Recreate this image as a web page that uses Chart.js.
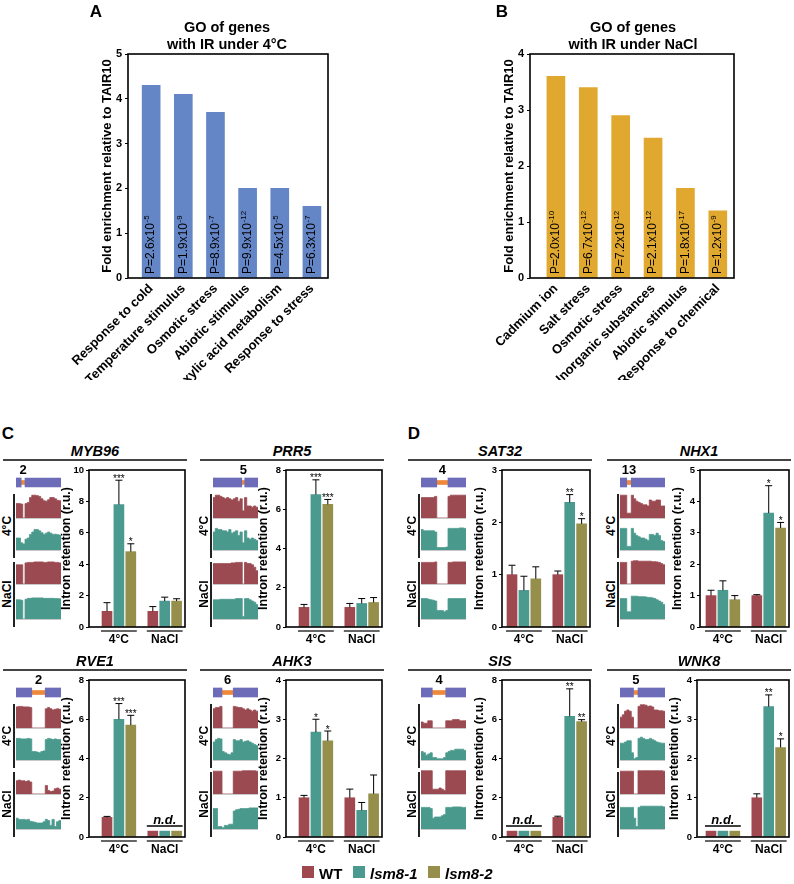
<!DOCTYPE html>
<html>
<head>
<meta charset="utf-8">
<script src="https://cdn.jsdelivr.net/npm/chart.js@4.4.0/dist/chart.umd.min.js"></script>
<style>
body { margin:0; background:#fff; width:794px; height:884px; position:relative; overflow:hidden; font-family:"Liberation Sans", Arial, sans-serif; }
canvas { position:absolute; }
.t { position:absolute; transform:translate(-50%,-50%); white-space:nowrap; font-weight:bold; line-height:1; color:#000; }
.rot { transform:translate(-50%,-50%) rotate(-90deg); }
.hl { position:absolute; height:1.5px; background:#444; }
.vl { position:absolute; width:1.5px; background:#222; }
.sq { position:absolute; width:12px; height:12px; }
</style>
</head>
<body>
<script>
// GO enrichment, panel A (4°C) and B (NaCl)
var coldTerms = ["Response to cold", "Temperature stimulus", "Osmotic stress", "Abiotic stimulus", "Carboxylic acid metabolism", "Response to stress"];
var coldFold = [4.3, 4.1, 3.7, 2.0, 2.0, 1.6];
var coldPMant = ["2.6", "1.9", "8.9", "9.9", "4.5", "6.3"];
var coldPExp = ["-5", "-9", "-7", "-12", "-5", "-7"];

var saltTerms = ["Cadmium ion", "Salt stress", "Osmotic stress", "Inorganic substances", "Abiotic stimulus", "Response to chemical"];
var saltFold = [3.6, 3.4, 2.9, 2.5, 1.6, 1.2];
var saltPMant = ["2.0", "6.7", "7.2", "2.1", "1.8", "1.2"];
var saltPExp = ["-10", "-12", "-12", "-12", "-17", "-9"];

var genotypes = ["WT", "lsm8-1", "lsm8-2"];
var conditions = ["4°C", "NaCl"];

// intron retention, order: 4°C WT, lsm8-1, lsm8-2, NaCl WT, lsm8-1, lsm8-2
var myb96Mean = [1.0, 7.8, 4.8, 1.0, 1.65, 1.65];
var myb96Err = [0.55, 1.55, 0.5, 0.3, 0.25, 0.15];
var myb96Sig = ["", "***", "*", "", "", ""];
var prr5Mean = [1.0, 6.75, 6.25, 1.0, 1.2, 1.25];
var prr5Err = [0.15, 0.75, 0.25, 0.2, 0.25, 0.25];
var prr5Sig = ["", "***", "***", "", "", ""];
var rve1Mean = [1.0, 6.0, 5.7, 0.3, 0.3, 0.3];
var rve1Err = [0.05, 0.8, 0.5, 0, 0, 0];
var rve1Sig = ["", "***", "***", "", "", ""];
var ahk3Mean = [1.0, 2.67, 2.45, 1.0, 0.68, 1.1];
var ahk3Err = [0.06, 0.33, 0.25, 0.22, 0.2, 0.48];
var ahk3Sig = ["", "*", "*", "", "", ""];
var sat32Mean = [1.0, 0.7, 0.92, 1.0, 2.38, 1.97];
var sat32Err = [0.18, 0.27, 0.23, 0.07, 0.15, 0.1];
var sat32Sig = ["", "", "", "", "**", "*"];
var nhx1Mean = [1.0, 1.17, 0.87, 1.0, 3.63, 3.15];
var nhx1Err = [0.17, 0.3, 0.13, 0.03, 0.87, 0.18];
var nhx1Sig = ["", "", "", "", "*", "*"];
var sisMean = [0.3, 0.3, 0.3, 1.0, 6.15, 5.88];
var sisErr = [0, 0, 0, 0.06, 1.4, 0.1];
var sisSig = ["", "", "", "", "**", "**"];
var wnk8Mean = [0.15, 0.15, 0.15, 1.0, 3.32, 2.28];
var wnk8Err = [0, 0, 0, 0.1, 0.3, 0.22];
var wnk8Sig = ["", "", "", "", "**", "*"];
// n.d. per condition
var ndNone = [false, false];
var rve1ND = [false, true];
var sisND = [true, false];
var wnk8ND = [true, false];

// gene models: intron start/end on a 20 bin scale
var myb96Intron = [2.3, 4.0];
var prr5Intron = [12.8, 14.1];
var rve1Intron = [7, 13];
var ahk3Intron = [4, 9];
var sat32Intron = [7, 12];
var sisIntron = [5, 11];
var nhx1Intron = [3, 5];
var wnk8Intron = [6, 8];

// read coverage, 20 bins, relative height
var myb96Cov4WT = [0.6,0.6,0.58,0,0.6,0.65,0.85,0.95,0.95,0.93,0.9,0.8,0.72,0.7,0.76,0.85,0.85,0.8,0.74,0.72];
var myb96Cov4L1 = [0.5,0.5,0.3,0.25,0.45,0.5,0.65,0.75,0.85,0.85,0.8,0.72,0.65,0.7,0.75,0.7,0.65,0.66,0.64,0.62];
var myb96CovNaWT = [0.8,0.8,0.8,0,0.88,0.9,0.9,0.9,0.92,0.92,0.92,0.92,0.9,0.9,0.92,0.92,0.92,0.9,0.9,0.88];
var myb96CovNaL1 = [0.8,0.8,0.78,0,0.82,0.86,0.86,0.88,0.88,0.88,0.88,0.88,0.86,0.86,0.86,0.86,0.86,0.85,0.85,0.84];
var prr5Cov4WT = [0.85,0.95,0.95,0.9,0.85,0.8,0.85,0.8,0.75,0.8,0.85,0.7,0.8,0.3,0.85,0.5,0.5,0.45,0.5,0.45];
var prr5Cov4L1 = [0.75,0.9,0.85,0.85,0.8,0.8,0.75,0.85,0.7,0.75,0.8,0.6,0.75,0.3,0.8,0.5,0.45,0.5,0.45,0.4];
var prr5CovNaWT = [0.85,0.85,0.85,0.85,0.85,0.85,0.85,0.85,0.88,0.88,0.9,0.9,0.9,0,0.9,0.85,0.85,0.8,0.7,0.55];
var prr5CovNaL1 = [0.8,0.8,0.8,0.82,0.82,0.82,0.82,0.82,0.82,0.82,0.85,0.85,0.85,0.1,0.85,0.85,0.8,0.75,0.7,0.6];
var rve1Cov4WT = [0.88,0.9,0.9,0.88,0.88,0.88,0.85,0,0,0,0,0,0,0.8,0.85,0.8,0.75,0.78,0.8,0.78];
var rve1Cov4L1 = [0.9,0.9,0.88,0.88,0.88,0.9,0.88,0.35,0.35,0.33,0.3,0.35,0.38,0.85,0.9,0.88,0.85,0.88,0.85,0.85];
var rve1CovNaWT = [0.55,0.58,0.55,0.55,0.52,0.55,0.5,0,0,0,0,0,0,0.35,0.15,0.1,0.12,0.22,0.25,0.2];
var rve1CovNaL1 = [0.45,0.4,0.4,0.4,0.38,0.4,0.32,0.3,0.28,0.25,0.25,0.25,0.3,0.4,0.35,0.15,0.4,0.1,0.3,0.35];
var ahk3Cov4WT = [0.8,0.85,0.85,0.9,0,0,0,0,0,0.9,0.88,0.85,0.85,0.8,0.75,0.8,0.75,0.7,0.75,0.7];
var ahk3Cov4L1 = [0.75,0.85,0.9,0.88,0.35,0.3,0.25,0.22,0.3,0.85,0.8,0.8,0.85,0.75,0.78,0.8,0.75,0.7,0.65,0.6];
var ahk3CovNaWT = [0.95,0.95,0.95,0.95,0,0,0,0,0,0.95,0.95,0.95,0.95,0.97,0.97,0.97,0.97,0.97,0.97,0.95];
var ahk3CovNaL1 = [0.85,0.85,0.1,0.1,0.05,0.15,0.15,0.2,0.2,0.75,0.8,0.82,0.85,0.85,0.85,0.85,0.88,0.88,0.88,0.88];
var sat32Cov4WT = [0.85,0.85,0.85,0.85,0.85,0.85,0.9,0,0,0,0,0,0.9,0.95,0.95,0.95,0.95,0.95,0.95,0.95];
var sat32Cov4L1 = [0.85,0.8,0.8,0.8,0.8,0.8,0.75,0.1,0.1,0.1,0.1,0.12,0.9,0.9,0.9,0.9,0.9,0.92,0.92,0.9];
var sat32CovNaWT = [0.9,0.9,0.9,0.9,0.9,0.9,0.92,0,0,0,0,0,0.9,0.9,0.92,0.92,0.92,0.92,0.92,0.92];
var sat32CovNaL1 = [0.85,0.85,0.85,0.82,0.8,0.78,0.75,0.35,0.35,0.35,0.3,0.35,0.85,0.85,0.85,0.85,0.85,0.85,0.85,0.85];
var sisCov4WT = [0.25,0.2,0.2,0.3,0.3,0,0,0,0,0,0,0.3,0.3,0.3,0.35,0.35,0.35,0.3,0.3,0.3];
var sisCov4L1 = [0.35,0.3,0.2,0.25,0.3,0.1,0.1,0.05,0.05,0.05,0.1,0.3,0.35,0.4,0.4,0.45,0.45,0.45,0.45,0.4];
var sisCovNaWT = [0.97,0.97,0.97,0.97,0.97,0.2,0.2,0.2,0.25,0.2,0.15,0.97,0.97,0.97,0.97,0.97,0.97,0.97,0.97,0.97];
var sisCovNaL1 = [0.9,0.9,0.9,0.9,0.85,0.45,0.5,0.5,0.5,0.55,0.6,0.9,0.9,0.9,0.92,0.92,0.92,0.92,0.9,0.9];
var nhx1Cov4WT = [0.95,0.95,0.95,0.2,0.2,0.95,0.8,0.7,0.65,0.6,0.55,0.55,0.5,0.75,0.7,0.7,0.75,0.75,0.5,0.5];
var nhx1Cov4L1 = [0.9,0.9,0.9,0.15,0.15,0.9,0.7,0.6,0.55,0.5,0.5,0.45,0.4,0.65,0.65,0.6,0.7,0.6,0.4,0.35];
var nhx1CovNaWT = [0.9,0.9,0.9,0,0,0.95,0.97,0.97,0.95,0.95,0.95,0.95,0.95,0.95,0.93,0.93,0.92,0.9,0.85,0.8];
var nhx1CovNaL1 = [0.85,0.85,0.85,0.3,0.3,0.95,0.95,0.95,0.93,0.93,0.93,0.92,0.9,0.9,0.88,0.85,0.8,0.75,0.7,0.6];
var wnk8Cov4WT = [0.45,0.55,0.7,0.75,0.7,0.45,0,0,0.9,0.97,0.97,0.95,0.9,0.92,0.88,0.75,0.75,0.72,0.72,0.7];
var wnk8Cov4L1 = [0.7,0.7,0.75,0.8,0.8,0.3,0.05,0.1,0.9,0.95,0.9,0.85,0.85,0.9,0.85,0.8,0.75,0.72,0.7,0.7];
var wnk8CovNaWT = [0.95,0.95,0.95,0.95,0.95,0.95,0,0,0.97,0.97,0.97,0.97,0.97,0.97,0.97,0.97,0.97,0.97,0.97,0.95];
var wnk8CovNaL1 = [0.9,0.9,0.9,0.9,0.9,0.9,0.45,0.1,0.9,0.95,0.95,0.95,0.95,0.95,0.95,0.95,0.95,0.95,0.95,0.92];

var barColors = ["#a0484f", "#4b9a8f", "#968f4c"];
var trackColors = ["#9a4a50", "#4a998d", "#9a4a50", "#4a998d"];
var exonColor = "#6c6cb8";
var intronColor = "#f0883a";
var FONT = '"Liberation Sans", Arial, sans-serif';

Chart.defaults.font.family = FONT;
Chart.defaults.color = "#000";
Chart.defaults.animation = false;
Chart.defaults.responsive = false;
Chart.defaults.devicePixelRatio = 1;
Chart.defaults.plugins.legend.display = false;
Chart.defaults.plugins.tooltip.enabled = false;

function addCanvas(x, y, w, h) {
	var c = document.createElement("canvas");
	c.width = w; c.height = h;
	c.style.left = x + "px"; c.style.top = y + "px";
	c.style.width = w + "px"; c.style.height = h + "px";
	document.body.appendChild(c);
	return c.getContext("2d");
}

function addText(html, x, y, css, cls) {
	var d = document.createElement("div");
	d.className = "t" + (cls ? " " + cls : "");
	d.innerHTML = html;
	d.style.left = x + "px"; d.style.top = y + "px";
	if (css) d.style.cssText += css;
	document.body.appendChild(d);
	return d;
}

function addBox(cls, x, y, w, h, color) {
	var d = document.createElement("div");
	d.className = cls;
	d.style.left = x + "px"; d.style.top = y + "px";
	if (w != null) d.style.width = w + "px";
	if (h != null) d.style.height = h + "px";
	if (color) d.style.background = color;
	document.body.appendChild(d);
}

var framePlugin = {
	id: "frame",
	afterDraw(chart) {
		var a = chart.chartArea, ctx = chart.ctx;
		ctx.save();
		ctx.strokeStyle = "#000";
		ctx.lineWidth = 1.6;
		ctx.strokeRect(a.left, a.top, a.right - a.left, a.bottom - a.top);
		ctx.restore();
	}
};

function pvalPlugin(mant, exp) {
	return {
		id: "pvals",
		afterDatasetsDraw(chart) {
			var ctx = chart.ctx, a = chart.chartArea;
			chart.getDatasetMeta(0).data.forEach((bar, i) => {
				ctx.save();
				ctx.translate(bar.x, a.bottom - 4);
				ctx.rotate(-Math.PI / 2);
				ctx.fillStyle = "#000";
				ctx.textAlign = "left";
				ctx.textBaseline = "middle";
				ctx.font = "12px " + FONT;
				var main = "P=" + mant[i] + "x10";
				ctx.fillText(main, 0, 0);
				var w = ctx.measureText(main).width;
				ctx.font = "8px " + FONT;
				ctx.fillText(exp[i], w + 0.5, -4);
				ctx.restore();
			});
		}
	};
}

function goChart(left, width, cats, fold, mant, exp, color, yMax, xMin, xMax, padL, padR) {
	var ctx = addCanvas(left, 0, width, 380);
	new Chart(ctx, {
		type: "bar",
		data: {
			datasets: [{
				data: fold.map((v, i) => ({ x: i, y: v })),
				backgroundColor: color,
				barThickness: 18
			}]
		},
		options: {
			layout: { padding: { top: 54, left: padL, right: padR, bottom: 0 } },
			scales: {
				x: {
					type: "linear", min: xMin, max: xMax, offset: false,
					afterBuildTicks: s => { s.ticks = cats.map((c, i) => ({ value: i })); },
					afterFit: s => { s.height = 102; },
					grid: { display: false }, border: { display: false },
					ticks: {
						callback: v => cats[v], autoSkip: false, maxRotation: 45, minRotation: 45,
						font: { size: 13, weight: "bold" }, padding: -5
					}
				},
				y: {
					min: 0, max: yMax,
					afterFit: s => { s.width = 28; },
					ticks: { stepSize: 1, font: { size: 11, weight: "bold" }, padding: 3 },
					grid: { drawOnChartArea: false, color: "#000", tickLength: 3 },
					border: { display: false },
					title: { display: true, text: "Fold enrichment relative to TAIR10", font: { size: 13, weight: "bold" }, padding: { top: 0, bottom: 0 } }
				}
			}
		},
		plugins: [framePlugin, pvalPlugin(mant, exp)]
	});
}

goChart(0, 400, coldTerms, coldFold, coldPMant, coldPExp, "#6486c6", 5, -0.72, 5.5, 100, 72);
goChart(400, 394, saltTerms, saltFold, saltPMant, saltPExp, "#e0a82e", 4, -0.8, 5.5, 102, 60);

addText("A", 96, 11, "font-size:17px;");
addText("B", 502, 11, "font-size:17px;");
addText("GO of genes", 227, 27, "font-size:14.5px;");
addText("with IR under 4°C", 227, 44, "font-size:14.5px;");
addText("GO of genes", 633, 27, "font-size:14.5px;");
addText("with IR under NaCl", 633, 44, "font-size:14.5px;");
addText("C", 8, 433, "font-size:17px;");
addText("D", 414, 433, "font-size:17px;");

// bar slots: 3 genotypes per condition, 11.9 px per unit, first bar 104 px from panel edge
var UNIT = 11.9;
function slot(g, k) { return g * 3.85 + k; }

function errPlugin(p) {
	return {
		id: "errs",
		afterDraw(chart) {
			var ctx = chart.ctx, a = chart.chartArea, ys = chart.scales.y;
			ctx.save();
			ctx.strokeStyle = "#000"; ctx.fillStyle = "#000"; ctx.lineWidth = 1;
			var metas = [0, 1, 2].map(k => chart.getDatasetMeta(k));
			conditions.forEach((c, g) => {
				var x0 = metas[0].data[g].x - 6, x1 = metas[2].data[g].x + 6;
				if (p.nd[g]) {
					var yb = ys.getPixelForValue(p.mean[g * 3]);
					ctx.beginPath(); ctx.lineWidth = 1.5;
					ctx.moveTo(x0, yb - 5); ctx.lineTo(x1, yb - 5); ctx.stroke();
					ctx.font = "italic bold 13px " + FONT;
					ctx.textAlign = "center"; ctx.textBaseline = "alphabetic";
					ctx.fillText("n.d.", (x0 + x1) / 2, yb - 7);
				} else {
					metas.forEach((m, k) => {
						var i = g * 3 + k, bar = m.data[g];
						var top = ys.getPixelForValue(p.mean[i] + p.err[i]);
						ctx.beginPath(); ctx.lineWidth = 1;
						ctx.moveTo(bar.x, bar.y); ctx.lineTo(bar.x, top);
						ctx.moveTo(bar.x - 3.5, top); ctx.lineTo(bar.x + 3.5, top);
						ctx.stroke();
						if (p.sig[i]) {
							ctx.font = "10px " + FONT;
							ctx.textAlign = "center"; ctx.textBaseline = "alphabetic";
							ctx.fillText(p.sig[i], bar.x, top + 1.5);
						}
					});
				}
				// condition label under each group
				ctx.beginPath(); ctx.lineWidth = 1.5; ctx.strokeStyle = "#333";
				ctx.moveTo(x0, a.bottom + 4); ctx.lineTo(x1, a.bottom + 4); ctx.stroke();
				ctx.strokeStyle = "#000";
				ctx.font = "bold 12px " + FONT;
				ctx.textAlign = "center"; ctx.textBaseline = "middle";
				ctx.fillText(c, (x0 + x1) / 2, a.bottom + 13);
			});
			ctx.restore();
		}
	};
}

function geneBars(p) {
	var w = 30 + (182 - p.plotL) + 3;
	var ctx = addCanvas(p.px + p.plotL - 30, p.by - 167, w, 195);
	var datasets = barColors.map((col, k) => ({
		label: genotypes[k],
		data: conditions.map((c, g) => ({ x: slot(g, k), y: p.mean[g * 3 + k] })),
		backgroundColor: col,
		barThickness: 10,
		grouped: false
	}));
	new Chart(ctx, {
		type: "bar",
		data: { datasets: datasets },
		options: {
			layout: { padding: { top: 10, bottom: 28, left: 0, right: 3 } },
			scales: {
				x: { type: "linear", display: false, offset: false, min: (p.plotL - 104) / UNIT, max: (182 - 104) / UNIT },
				y: {
					min: 0, max: p.yMax,
					afterFit: s => { s.width = 30; },
					ticks: { stepSize: p.step, font: { size: 9.5, weight: "bold" }, padding: 2 },
					grid: { drawOnChartArea: false, color: "#000", tickLength: 3 },
					border: { display: false },
					title: { display: true, text: "Intron retention (r.u.)", font: { size: 12.5, weight: "bold" }, padding: { top: 0, bottom: 1 } }
				}
			}
		},
		plugins: [framePlugin, errPlugin(p)]
	});
}

function numberPlugin(label, intron) {
	return {
		id: "intronNo",
		afterDraw(chart) {
			var ctx = chart.ctx, xs = chart.scales.x;
			ctx.save();
			ctx.fillStyle = "#000";
			ctx.font = "bold 13px " + FONT;
			ctx.textAlign = "center"; ctx.textBaseline = "middle";
			ctx.fillText(label, xs.getPixelForValue((intron[0] + intron[1]) / 2), 5.5);
			ctx.restore();
		}
	};
}

function geneModel(p) {
	var n = p.cov[0].length;
	var s = p.intron[0], e = p.intron[1];
	var ctx = addCanvas(p.px + 13, p.by - 162, 45, 24);
	new Chart(ctx, {
		type: "bar",
		data: {
			labels: ["model"],
			datasets: [
				{ data: [[0, s]], backgroundColor: exonColor, barThickness: 9, grouped: false },
				{ data: [[e, n]], backgroundColor: exonColor, barThickness: 9, grouped: false },
				{ data: [[s, e]], backgroundColor: intronColor, barThickness: 4, grouped: false }
			]
		},
		options: {
			indexAxis: "y",
			layout: { padding: { top: 11, bottom: 0, left: 0, right: 0 } },
			scales: {
				x: { type: "linear", min: 0, max: n, display: false, offset: false },
				y: { display: false }
			}
		},
		plugins: [numberPlugin(p.intronNo, p.intron)]
	});
}

function track(x, y, vals, color) {
	var ctx = addCanvas(x, y, 45, 32);
	var pts = vals.map((v, i) => ({ x: i, y: v }));
	pts.push({ x: vals.length, y: vals[vals.length - 1] });
	new Chart(ctx, {
		type: "line",
		data: { datasets: [{ data: pts, stepped: true, fill: "origin", backgroundColor: color, borderColor: color, borderWidth: 0.8, pointRadius: 0 }] },
		options: {
			layout: { padding: 0 },
			scales: {
				x: { type: "linear", min: 0, max: vals.length, offset: false, ticks: { display: false }, grid: { display: false }, border: { color: "#c8c8c8", width: 1 } },
				y: { min: 0, max: 1, display: false }
			}
		}
	});
}

function genePanel(p) {
	addText(p.name, p.px + 92, p.by - 176, "font-size:14.5px;font-style:italic;");
	addBox("hl", p.px, p.by - 168, 184, null);
	geneModel(p);
	var tops = [p.by - 133, p.by - 101, p.by - 67, p.by - 32];
	p.cov.forEach((v, j) => track(p.px + 13, tops[j], v, trackColors[j]));
	addBox("vl", p.px + 10, p.by - 133, null, 64);
	addBox("vl", p.px + 10, p.by - 65, null, 65);
	addText("4°C", p.px + 4, p.by - 101, "font-size:12px;", "rot");
	addText("NaCl", p.px + 4, p.by - 33, "font-size:12px;", "rot");
	geneBars(p);
}

var genePanels = [
	{ name: "MYB96", px: 3, by: 627, plotL: 86, yMax: 10, step: 2, intronNo: "2", intron: myb96Intron, mean: myb96Mean, err: myb96Err, sig: myb96Sig, nd: ndNone, cov: [myb96Cov4WT, myb96Cov4L1, myb96CovNaWT, myb96CovNaL1] },
	{ name: "PRR5", px: 200, by: 627, plotL: 86, yMax: 8, step: 2, intronNo: "5", intron: prr5Intron, mean: prr5Mean, err: prr5Err, sig: prr5Sig, nd: ndNone, cov: [prr5Cov4WT, prr5Cov4L1, prr5CovNaWT, prr5CovNaL1] },
	{ name: "RVE1", px: 3, by: 837, plotL: 86, yMax: 8, step: 2, intronNo: "2", intron: rve1Intron, mean: rve1Mean, err: rve1Err, sig: rve1Sig, nd: rve1ND, cov: [rve1Cov4WT, rve1Cov4L1, rve1CovNaWT, rve1CovNaL1] },
	{ name: "AHK3", px: 200, by: 837, plotL: 86, yMax: 4, step: 1, intronNo: "6", intron: ahk3Intron, mean: ahk3Mean, err: ahk3Err, sig: ahk3Sig, nd: ndNone, cov: [ahk3Cov4WT, ahk3Cov4L1, ahk3CovNaWT, ahk3CovNaL1] },
	{ name: "SAT32", px: 408, by: 627, plotL: 94, yMax: 3, step: 1, intronNo: "4", intron: sat32Intron, mean: sat32Mean, err: sat32Err, sig: sat32Sig, nd: ndNone, cov: [sat32Cov4WT, sat32Cov4L1, sat32CovNaWT, sat32CovNaL1] },
	{ name: "NHX1", px: 607, by: 627, plotL: 93, yMax: 5, step: 1, intronNo: "13", intron: nhx1Intron, mean: nhx1Mean, err: nhx1Err, sig: nhx1Sig, nd: ndNone, cov: [nhx1Cov4WT, nhx1Cov4L1, nhx1CovNaWT, nhx1CovNaL1] },
	{ name: "SIS", px: 408, by: 837, plotL: 94, yMax: 8, step: 2, intronNo: "4", intron: sisIntron, mean: sisMean, err: sisErr, sig: sisSig, nd: sisND, cov: [sisCov4WT, sisCov4L1, sisCovNaWT, sisCovNaL1] },
	{ name: "WNK8", px: 607, by: 837, plotL: 90, yMax: 4, step: 1, intronNo: "5", intron: wnk8Intron, mean: wnk8Mean, err: wnk8Err, sig: wnk8Sig, nd: wnk8ND, cov: [wnk8Cov4WT, wnk8Cov4L1, wnk8CovNaWT, wnk8CovNaL1] }
];
genePanels.forEach(genePanel);

// legend
var legendX = [302, 353, 428];
genotypes.forEach((gname, k) => {
	addBox("sq", legendX[k], 866, null, null, barColors[k]);
	addText(gname, legendX[k] + 17, 873, "font-size:15px;transform:translate(0,-50%);" + (k > 0 ? "font-style:italic;" : ""));
});
</script>
</body>
</html>
